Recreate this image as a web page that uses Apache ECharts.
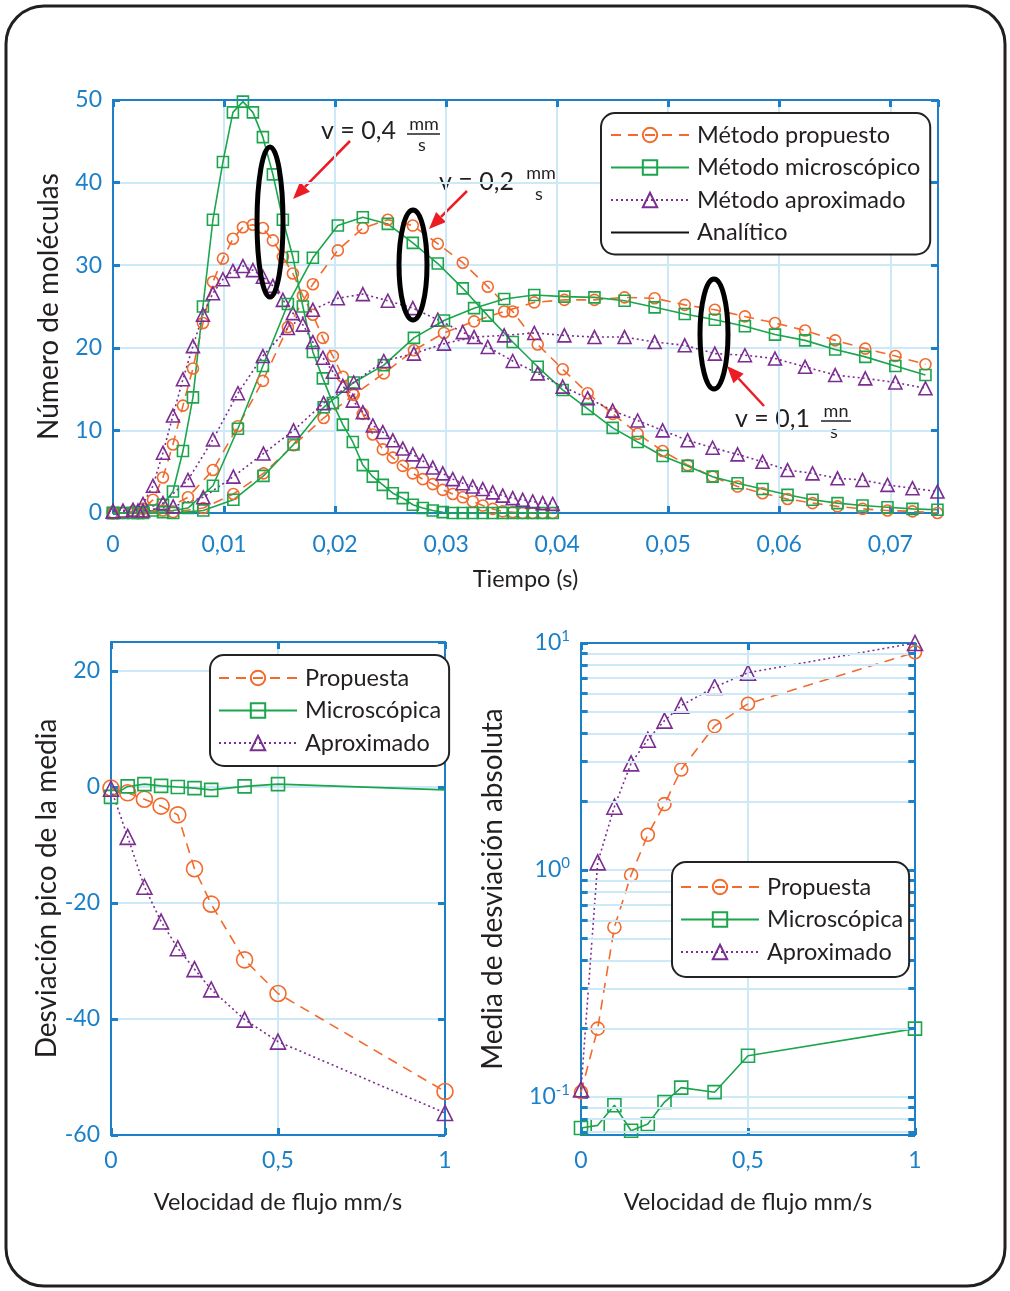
<!DOCTYPE html>
<html>
<head>
<meta charset="utf-8">
<script src="https://cdn.jsdelivr.net/npm/echarts@6/dist/echarts.min.js"></script>
<style>
html, body { margin: 0; padding: 0; background: #fff; }
#main { width: 1010px; height: 1291px; }
</style>
</head>
<body>
<div id="main"></div>
<script>
// v = 0.4 mm/s
var tA = [0, 0.0009, 0.0018, 0.0027, 0.0036, 0.0045, 0.0054, 0.0063, 0.0072, 0.0081, 0.009, 0.0099, 0.0108, 0.0117, 0.0126, 0.0135, 0.0144, 0.0153, 0.0162, 0.0171, 0.018, 0.0189, 0.0198, 0.0207, 0.0216, 0.0225, 0.0234, 0.0243, 0.0252, 0.0261, 0.027, 0.0279, 0.0288, 0.0297, 0.0306, 0.0315, 0.0324, 0.0333, 0.0342, 0.0351, 0.036, 0.0369, 0.0378, 0.0387, 0.0396];
var propA = [0, 0, 0.2, 0.5, 1.6, 4.3, 8.3, 13, 17.5, 23, 28, 30.8, 33.2, 34.6, 34.9, 34.5, 33, 31, 29, 26.3, 24, 21.2, 19, 16.5, 14.5, 12, 9.5, 7.7, 6.7, 5.7, 4.8, 4.1, 3.5, 2.8, 2.3, 1.9, 1.4, 0.9, 0.5, 0.2, 0.1, 0, 0, 0, 0];
var microA = [0, 0, 0, 0.1, 0.3, 1.0, 2.6, 7.5, 14, 25, 35.5, 42.5, 48.5, 49.8, 48.5, 45.5, 41, 35.5, 31, 25, 19.5, 16.3, 13.3, 10.7, 8.6, 5.8, 4.4, 3.4, 2.4, 1.8, 1.0, 0.6, 0.3, 0.1, 0, 0, 0, 0, 0, 0, 0, 0, 0, 0, 0];
var aproxA = [0.2, 0.3, 0.4, 1.1, 3.3, 7.3, 11.8, 16.2, 20.2, 24, 26.6, 28.3, 29.3, 29.9, 29.4, 28.6, 27.5, 25.8, 24.2, 22.8, 20.7, 18.8, 17.1, 15.4, 13.6, 12.2, 10.6, 9.8, 8.8, 7.8, 7.1, 6.3, 5.5, 4.8, 4.1, 3.6, 3.2, 2.9, 2.5, 2.1, 1.8, 1.6, 1.4, 1.2, 1.1];

// v = 0.2 mm/s
var tB = [0, 0.00225, 0.0045, 0.00675, 0.009, 0.01125, 0.0135, 0.01575, 0.018, 0.02025, 0.0225, 0.02475, 0.027, 0.02925, 0.0315, 0.03375, 0.036, 0.03825, 0.0405, 0.04275, 0.045, 0.04725, 0.0495, 0.05175, 0.054, 0.05625, 0.0585, 0.06075, 0.063, 0.06525, 0.0675, 0.06975, 0.072, 0.07425];
var propB = [0, 0, 0.3, 1.9, 5.2, 10.5, 16, 22.5, 27.7, 31.8, 34.5, 35.5, 34.8, 32.6, 30.3, 27.4, 24.4, 20.4, 17.4, 14.5, 12.0, 9.6, 7.5, 5.8, 4.4, 3.2, 2.4, 1.7, 1.2, 0.8, 0.5, 0.3, 0.2, 0];
var microB = [0, 0, 0.1, 0.6, 3.3, 10.2, 17.8, 25.3, 30.9, 34.8, 35.8, 35.0, 32.7, 30.2, 27.2, 23.9, 20.7, 17.7, 14.9, 12.6, 10.3, 8.6, 6.9, 5.7, 4.4, 3.6, 2.9, 2.2, 1.6, 1.2, 0.9, 0.7, 0.5, 0.4];
var aproxB = [0.2, 0.3, 1.2, 4.0, 8.9, 14.5, 19.0, 22.4, 24.6, 26.0, 26.5, 25.7, 24.8, 23.4, 21.9, 20.1, 18.4, 16.9, 15.3, 13.9, 12.4, 11.2, 10.0, 8.8, 7.9, 7.1, 6.2, 5.2, 4.8, 4.2, 4.0, 3.4, 3.0, 2.6];

// v = 0.1 mm/s
var tC = [0, 0.00271, 0.00542, 0.00813, 0.01084, 0.01355, 0.01626, 0.01897, 0.02168, 0.02439, 0.0271, 0.02981, 0.03252, 0.03523, 0.03794, 0.04065, 0.04336, 0.04607, 0.04878, 0.05149, 0.0542, 0.05691, 0.05962, 0.06233, 0.06504, 0.06775, 0.07046, 0.07317];
var propC = [0, 0, 0.1, 0.6, 2.3, 4.8, 8.2, 11.5, 14.3, 16.9, 19.7, 21.8, 23.2, 24.4, 25.5, 25.8, 25.8, 26.1, 26.0, 25.2, 24.6, 23.8, 23.0, 22.1, 20.9, 19.9, 19.0, 18.0];
var microC = [0, 0, 0, 0.3, 1.6, 4.5, 8.3, 12.8, 15.8, 17.9, 21.2, 23.3, 24.8, 25.9, 26.4, 26.2, 26.1, 25.7, 24.9, 24.1, 23.4, 22.6, 21.6, 20.9, 19.8, 18.9, 17.8, 16.7];
var aproxC = [0.2, 0.3, 0.8, 1.9, 4.4, 7.2, 10, 13.3, 15.8, 18.4, 19.3, 20.5, 21.3, 21.5, 21.8, 21.5, 21.3, 21.3, 20.7, 20.3, 19.3, 19.1, 18.7, 17.7, 16.7, 16.3, 15.8, 15.1];

// velocidad de flujo (mm/s)
var velX = [0, 0.05, 0.1, 0.15, 0.2, 0.25, 0.3, 0.4, 0.5, 1];
var devProp = [-0.2, -1.0, -2.1, -3.3, -4.8, -14.1, -20.2, -29.8, -35.6, -52.5];
var devMicro = [-1.7, 0.1, 0.5, 0.2, 0, -0.2, -0.5, 0.1, 0.5, -0.5];
var devAprox = [-0.3, -8.6, -17.2, -23.2, -27.8, -31.4, -34.9, -40.1, -43.9, -56.2];
var absProp = [0.105, 0.2, 0.56, 0.95, 1.43, 1.95, 2.77, 4.3, 5.4, 9.1];
var absMicro = [0.073, 0.075, 0.092, 0.071, 0.076, 0.095, 0.11, 0.105, 0.152, 0.2];
var absAprox = [0.108, 1.08, 1.9, 2.95, 3.75, 4.55, 5.3, 6.4, 7.4, 10];
// lineas menores de la escala log
var logMinor = [0.07, 0.08, 0.09, 0.2, 0.3, 0.4, 0.5, 0.6, 0.7, 0.8, 0.9, 2, 3, 4, 5, 6, 7, 8, 9];

var FONT = 'Lato';
var BLUE = '#1b80c8';
var GRIDC = '#cde9f7';
var TXT = '#231f20';
var ORANGE = '#f26a2c';
var GREEN = '#1ba54c';
var PURPLE = '#7b2d91';
var CLEAR = 'rgba(255,255,255,0)';

function zip(xs, ys) {
    return xs.map(function (x, i) { return [x, ys[i]]; });
}

function axis(o) {
    return Object.assign({
        type: 'value',
        axisLine: { show: true, onZero: false, lineStyle: { color: BLUE, width: 2 } },
        axisTick: { show: true, inside: true, length: 7, lineStyle: { color: BLUE, width: 3 } },
        axisLabel: { color: BLUE, fontSize: 23, fontFamily: FONT },
        splitLine: { show: true, lineStyle: { color: GRIDC, width: 2 } },
        nameLocation: 'middle',
        nameTextStyle: { color: TXT, fontSize: 28, fontFamily: FONT }
    }, o);
}
function mirror(o) {
    return axis(Object.assign({ axisLabel: { show: false }, splitLine: { show: false } }, o));
}
var xName = { color: TXT, fontSize: 23.5, fontFamily: FONT };

var styles = {
    prop: { color: ORANGE, symbol: 'circle', dash: [10, 7], size: 11 },
    micro: { color: GREEN, symbol: 'rect', dash: 'solid', size: 11 },
    aprox: { color: PURPLE, symbol: 'triangle', dash: [2, 3], size: 13 }
};

function line(name, kind, data, grid, size) {
    var s = styles[kind];
    return {
        name: name, type: 'line', data: data,
        xAxisIndex: grid * 2, yAxisIndex: grid * 2,
        symbol: s.symbol, symbolSize: size || s.size,
        lineStyle: { color: s.color, width: 1.6, type: s.dash },
        itemStyle: { color: CLEAR, borderColor: s.color, borderWidth: 1.6 },
        emphasis: { disabled: true }, silent: true, z: 3
    };
}

function fmtComma(v) {
    return v === 0 ? '0' : String(v).replace('.', ',');
}

function arrow(x1, y1, x2, y2) {
    var dx = x2 - x1, dy = y2 - y1, L = Math.sqrt(dx * dx + dy * dy);
    var ux = dx / L, uy = dy / L, hl = 17, hw = 7;
    var bx = x2 - ux * hl, by = y2 - uy * hl;
    return [
        { type: 'line', shape: { x1: x1, y1: y1, x2: bx, y2: by }, style: { stroke: '#ec1c24', lineWidth: 2.5 } },
        { type: 'polygon', shape: { points: [[x2, y2], [bx - uy * hw, by + ux * hw], [bx + uy * hw, by - ux * hw]] }, style: { fill: '#ec1c24' } }
    ];
}

function label(text, x, y, frac, fx, lineY, lineX1, lineX2) {
    return [
        { type: 'text', x: x, y: y, style: { text: text, font: '25px ' + FONT, fill: TXT, textVerticalAlign: 'middle' } },
        { type: 'text', x: fx, y: lineY - 10, style: { text: frac, font: '18px ' + FONT, fill: TXT, textAlign: 'center', textVerticalAlign: 'middle' } },
        { type: 'line', shape: { x1: lineX1, y1: lineY, x2: lineX2, y2: lineY }, style: { stroke: TXT, lineWidth: 1.5 } },
        { type: 'text', x: fx - 2, y: lineY + 11, style: { text: 's', font: '18px ' + FONT, fill: TXT, textAlign: 'center', textVerticalAlign: 'middle' } }
    ];
}

function ellipse(cx, cy, rx, ry) {
    return { type: 'ellipse', shape: { cx: cx, cy: cy, rx: rx, ry: ry }, style: { fill: null, stroke: '#000', lineWidth: 5 }, z: 10 };
}

var microLast = zip(velX, devMicro);
microLast[microLast.length - 1] = { value: microLast[microLast.length - 1], symbol: 'none' };

// marcas menores en ambos bordes del eje log
var minorTicks = [];
logMinor.forEach(function (v) {
    minorTicks.push([{ coord: [0, v] }, { coord: [0.02, v] }]);
    minorTicks.push([{ coord: [0.98, v] }, { coord: [1, v] }]);
});

var legendBase = {
    orient: 'vertical', selectedMode: false, z: 20,
    backgroundColor: '#fff', borderColor: '#222', borderWidth: 2, borderRadius: 14,
    itemWidth: 78, itemHeight: 18, itemGap: 2.5,
    textStyle: { color: TXT, fontSize: 23.5, fontFamily: FONT, lineHeight: 30, padding: [0, 0, 0, 3] }
};

var graphics = [
    { type: 'rect', shape: { x: 6, y: 6, width: 999, height: 1280, r: 38 }, style: { fill: null, stroke: TXT, lineWidth: 3 } },
    ellipse(270, 222, 13, 75),
    ellipse(413, 265, 14, 55),
    ellipse(714, 334, 14, 55)
];
graphics = graphics.concat(arrow(350, 141, 293, 199), arrow(467, 191, 429, 229), arrow(764, 406, 727, 366));
graphics = graphics.concat(
    label('v = 0,4', 321, 131, 'mm', 424, 134, 407, 440),
    label('v = 0,2', 439, 182, 'mm', 541, 183, 525, 557),
    label('v = 0,1', 735, 419, 'mn', 836, 421, 821, 851)
);

var option = {
    animation: false,
    textStyle: { fontFamily: FONT },
    grid: [
        { left: 113, top: 100, width: 825, height: 413 },
        { left: 111, top: 642, width: 334, height: 493 },
        { left: 581, top: 643, width: 334, height: 492 }
    ],
    xAxis: [
        axis({ gridIndex: 0, min: 0, max: 0.0743, interval: 0.01, name: 'Tiempo (s)', nameGap: 54, nameTextStyle: xName,
            axisLabel: { color: BLUE, fontSize: 23, fontFamily: FONT, margin: 20, showMaxLabel: false,
                formatter: function (v) { return v === 0 ? '0' : v.toFixed(2).replace('.', ','); } } }),
        mirror({ gridIndex: 0, position: 'top', min: 0, max: 0.0743, interval: 0.01 }),
        axis({ gridIndex: 1, min: 0, max: 1, interval: 0.5, name: 'Velocidad de flujo mm/s', nameGap: 55, nameTextStyle: xName,
            axisLabel: { color: BLUE, fontSize: 23, fontFamily: FONT, margin: 14, formatter: fmtComma } }),
        mirror({ gridIndex: 1, position: 'top', min: 0, max: 1, interval: 0.5 }),
        axis({ gridIndex: 2, min: 0, max: 1, interval: 0.5, name: 'Velocidad de flujo mm/s', nameGap: 55, nameTextStyle: xName,
            axisLabel: { color: BLUE, fontSize: 23, fontFamily: FONT, margin: 14, formatter: fmtComma } }),
        mirror({ gridIndex: 2, position: 'top', min: 0, max: 1, interval: 0.5 })
    ],
    yAxis: [
        axis({ gridIndex: 0, min: 0, max: 50, interval: 10, name: 'Número de moléculas', nameGap: 50,
            axisLabel: { color: BLUE, fontSize: 23, fontFamily: FONT, margin: 11 } }),
        mirror({ gridIndex: 0, position: 'right', min: 0, max: 50, interval: 10 }),
        axis({ gridIndex: 1, min: -60, max: 25, interval: 20, name: 'Desviación pico de la media', nameGap: 49,
            axisLabel: { color: BLUE, fontSize: 23, fontFamily: FONT, margin: 11, showMaxLabel: false } }),
        mirror({ gridIndex: 1, position: 'right', min: -60, max: 25, interval: 20 }),
        axis({ gridIndex: 2, type: 'log', logBase: 10, min: 0.068, max: 10, name: 'Media de desviación absoluta', nameGap: 74,
            axisLabel: { margin: 11, showMinLabel: false,
                formatter: function (v) {
                    var l = Math.log(v) / Math.LN10, e = Math.round(l);
                    if (Math.abs(l - e) > 1e-6) return '';
                    return '{b|10}{s|' + e + '}';
                },
                rich: {
                    b: { color: BLUE, fontSize: 23, fontFamily: FONT },
                    s: { color: BLUE, fontSize: 15, fontFamily: FONT, padding: [0, 0, 14, 0] }
                } } }),
        mirror({ gridIndex: 2, type: 'log', logBase: 10, position: 'right', min: 0.068, max: 10 })
    ],
    legend: [
        Object.assign({}, legendBase, { left: 601, top: 113, padding: [7, 10, 7, 9],
            data: ['Método propuesto', 'Método microscópico', 'Método aproximado', 'Analítico'] }),
        Object.assign({}, legendBase, { left: 210, top: 655, padding: [8, 8, 8, 8],
            data: ['Propuesta', 'Microscópica', 'Aproximado'] }),
        Object.assign({}, legendBase, { left: 672, top: 862, padding: [10, 6, 10, 8],
            data: ['Propuesta', 'Microscópica', 'Aproximado'] })
    ],
    series: [
        line('Método propuesto', 'prop', zip(tA, propA), 0),
        line('Método microscópico', 'micro', zip(tA, microA), 0),
        line('Método aproximado', 'aprox', zip(tA, aproxA), 0),
        line('Método propuesto', 'prop', zip(tB, propB), 0),
        line('Método microscópico', 'micro', zip(tB, microB), 0),
        line('Método aproximado', 'aprox', zip(tB, aproxB), 0),
        line('Método propuesto', 'prop', zip(tC, propC), 0),
        line('Método microscópico', 'micro', zip(tC, microC), 0),
        line('Método aproximado', 'aprox', zip(tC, aproxC), 0),
        { name: 'Analítico', type: 'line', data: [], symbol: 'circle', symbolSize: 0, xAxisIndex: 0, yAxisIndex: 0,
          lineStyle: { color: '#111', width: 2.5 }, itemStyle: { color: CLEAR, borderColor: CLEAR, borderWidth: 0 } },

        line('Propuesta', 'prop', zip(velX, devProp), 1, 16),
        line('Microscópica', 'micro', microLast, 1, 13),
        line('Aproximado', 'aprox', zip(velX, devAprox), 1, 15),

        { type: 'line', data: [], xAxisIndex: 4, yAxisIndex: 4, silent: true, z: 1,
          markLine: { silent: true, symbol: 'none', label: { show: false },
              lineStyle: { color: GRIDC, width: 2, type: 'solid' },
              data: logMinor.map(function (v) { return { yAxis: v }; }) } },
        { type: 'line', data: [], xAxisIndex: 4, yAxisIndex: 4, silent: true, z: 2,
          markLine: { silent: true, symbol: 'none', label: { show: false },
              lineStyle: { color: BLUE, width: 3, type: 'solid' },
              data: minorTicks } },
        line('Propuesta', 'prop', zip(velX, absProp), 2, 13),
        line('Microscópica', 'micro', zip(velX, absMicro), 2, 13),
        line('Aproximado', 'aprox', zip(velX, absAprox), 2, 15)
    ],
    graphic: graphics
};

var chart = echarts.init(document.getElementById('main'));
chart.setOption(option);
</script>
</body>
</html>
